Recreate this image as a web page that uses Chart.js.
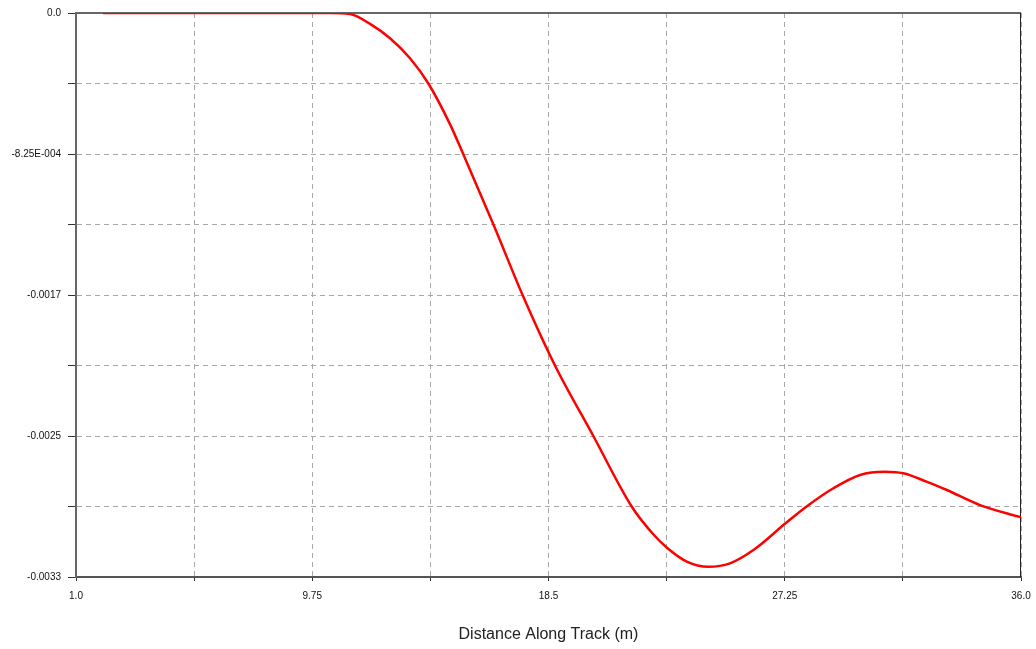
<!DOCTYPE html>
<html>
<head>
<meta charset="utf-8">
<script src="https://cdn.jsdelivr.net/npm/chart.js@4.4.1/dist/chart.umd.min.js"></script>
<style>
    html, body { margin: 0; padding: 0; background: #fff; }
    #wrap { width: 1036px; height: 649px; }
</style>
</head>
<body>
<div id="wrap"><canvas id="track_chart" width="1036" height="649"></canvas></div>
<script>
// values
var distance = [2.0, 6.0, 10.0, 10.41, 11.15, 11.89, 12.63, 13.37, 14.05, 14.85, 15.34, 16.46,
    17.54, 18.74, 20.16, 21.58, 22.38, 22.91, 23.62, 24.42, 25.22, 26.09, 27.28, 28.06,
    29.05, 30.04, 30.96, 31.64, 32.5, 33.25, 34.48, 36.0];
var deflection = [0, 0, 0, 0, -0.000006, -0.000064, -0.000148, -0.000265, -0.0004125, -0.00065,
    -0.000825, -0.0012375, -0.00165, -0.0020625, -0.002475, -0.0028875, -0.00305,
    -0.003132, -0.00321, -0.00324, -0.00322, -0.003142, -0.002986, -0.0028875, -0.002781,
    -0.002703, -0.002684, -0.002693, -0.002742, -0.002791, -0.002879, -0.002951];

var xTickValues = [1.0, 5.375, 9.75, 14.125, 18.5, 22.875, 27.25, 31.625, 36.0];
var xTickLabels = ['1.0', '', '9.75', '', '18.5', '', '27.25', '', '36.0'];
var yTickValues = [-0.0033, -0.0028875, -0.002475, -0.0020625, -0.00165, -0.0012375, -0.000825, -0.0004125, 0];
var yTickLabels = ['-0.0033', '', '-0.0025', '', '-0.0017', '', '-8.25E-004', '', '0.0'];

var xTitle = 'Distance Along Track (m)';

(function() {
    var points = distance.map(function(d, i) {
        return { x: d, y: deflection[i] };
    });

    // top and right edges of the plot box
    var frame = {
        id: 'frame',
        beforeDatasetsDraw: function(chart) {
            var a = chart.chartArea, ctx = chart.ctx;
            ctx.save();
            ctx.lineWidth = 2;
            ctx.strokeStyle = '#666';
            ctx.beginPath();
            ctx.moveTo(a.left, a.top);
            ctx.lineTo(a.right, a.top);
            ctx.stroke();
            ctx.lineWidth = 1;
            ctx.strokeStyle = '#222';
            ctx.beginPath();
            ctx.moveTo(a.right - 0.5, a.top);
            ctx.lineTo(a.right - 0.5, a.bottom);
            ctx.stroke();
            ctx.restore();
        }
    };

    new Chart(document.getElementById('track_chart').getContext('2d'), {
        type: 'line',
        data: {
            datasets: [{
                data: points,
                borderColor: '#ff0000',
                borderWidth: 2.5,
                pointRadius: 0,
                fill: false,
                cubicInterpolationMode: 'monotone'
            }]
        },
        options: {
            responsive: false,
            animation: false,
            layout: { padding: { top: 13, right: 15, left: 0, bottom: 0 } },
            plugins: {
                legend: { display: false },
                tooltip: { enabled: false }
            },
            scales: {
                x: {
                    type: 'linear',
                    min: 1,
                    max: 36,
                    afterBuildTicks: function(scale) {
                        scale.ticks = xTickValues.map(function(v) { return { value: v }; });
                    },
                    afterFit: function(scale) {
                        scale.height = 72;
                        scale.paddingLeft = 0;
                        scale.paddingRight = 0;
                    },
                    ticks: {
                        autoSkip: false,
                        maxRotation: 0,
                        padding: 9,
                        color: '#111',
                        font: { family: 'Liberation Sans, Arial', size: 10 },
                        callback: function(value, index) { return xTickLabels[index]; }
                    },
                    grid: {
                        color: '#a8a8a8',
                        lineWidth: 1,
                        tickLength: 4,
                        tickColor: '#333',
                        tickBorderDash: []
                    },
                    border: { display: true, color: '#555', width: 2, dash: [5, 4] },
                    title: {
                        display: true,
                        text: xTitle,
                        color: '#222',
                        font: { family: 'Liberation Sans, Arial', size: 16 },
                        padding: { top: 4, bottom: 5 }
                    }
                },
                y: {
                    type: 'linear',
                    min: -0.0033,
                    max: 0,
                    afterBuildTicks: function(scale) {
                        scale.ticks = yTickValues.map(function(v) { return { value: v }; });
                    },
                    afterFit: function(scale) {
                        scale.width = 76;
                        scale.paddingTop = 0;
                        scale.paddingBottom = 0;
                    },
                    ticks: {
                        autoSkip: false,
                        padding: 7,
                        color: '#111',
                        font: { family: 'Liberation Sans, Arial', size: 10 },
                        callback: function(value, index) { return yTickLabels[index]; }
                    },
                    grid: {
                        color: '#a8a8a8',
                        lineWidth: 1,
                        tickLength: 8,
                        tickColor: '#333',
                        tickBorderDash: []
                    },
                    border: { display: true, color: '#666', width: 2, dash: [5, 4] }
                }
            }
        },
        plugins: [frame]
    });
}());
</script>
</body>
</html>
